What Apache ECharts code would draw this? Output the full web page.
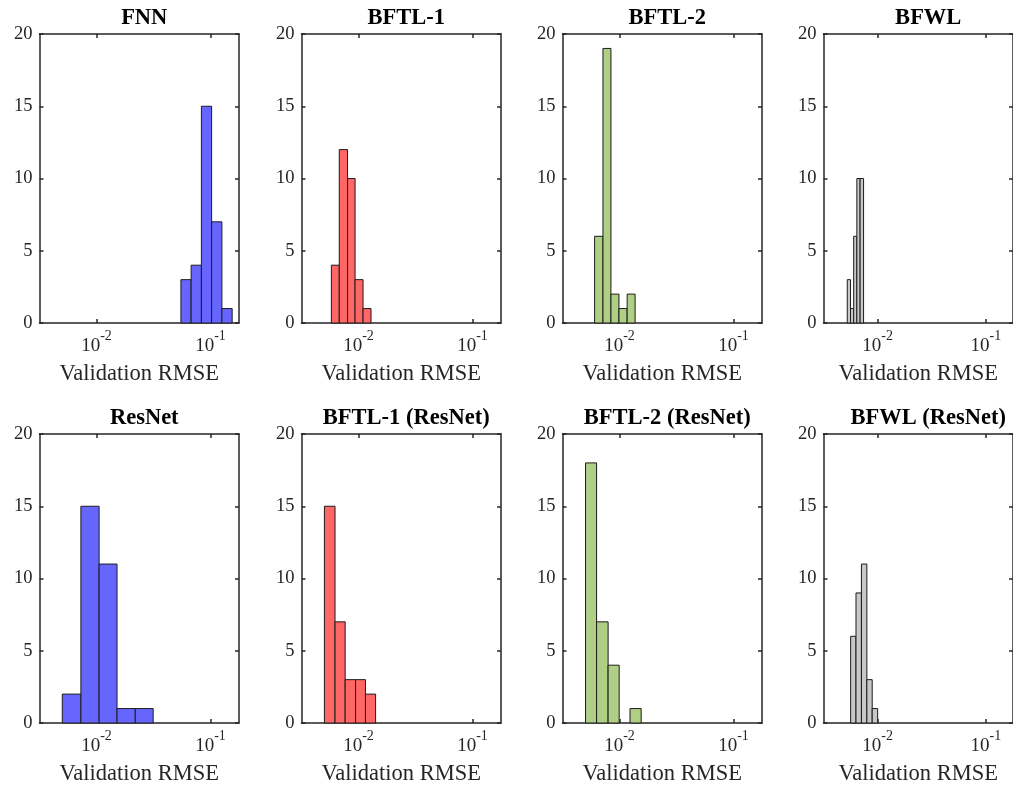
<!DOCTYPE html>
<html><head><meta charset="utf-8">
<script src="https://cdn.jsdelivr.net/npm/echarts@6/dist/echarts.min.js"></script>
<style>html,body{margin:0;padding:0;background:#fff}#c{width:1013px;height:791px}</style>
</head><body><div id="c"></div>
<script>
// ---- data ----
const panelTitles = ['FNN', 'BFTL-1', 'BFTL-2', 'BFWL', 'ResNet', 'BFTL-1 (ResNet)', 'BFTL-2 (ResNet)', 'BFWL (ResNet)'];
const xAxisName = 'Validation RMSE';
const yTicks = [0, 5, 10, 15, 20];
const xTickValues = [0.01, 0.1];

const fnnEdges = [0.0550, 0.0676, 0.0832, 0.1023, 0.1259, 0.1549];
const fnnCounts = [3, 4, 15, 7, 1];
const bftl1Edges = [0.00578, 0.00678, 0.00802, 0.00933, 0.01096, 0.01288];
const bftl1Counts = [4, 12, 10, 3, 1];
const bftl2Edges = [0.00605, 0.00716, 0.00841, 0.00989, 0.01167, 0.01371];
const bftl2Counts = [6, 19, 2, 1, 2];
const bfwlEdges = [0.005241, 0.005618, 0.006008, 0.006427, 0.006887, 0.007413];
const bfwlCounts = [3, 1, 6, 10, 10];
const resnetEdges = [0.005012, 0.007295, 0.010544, 0.015136, 0.021878, 0.031405];
const resnetCounts = [2, 15, 11, 1, 1];
const bftl1ResEdges = [0.005023, 0.006223, 0.007638, 0.009419, 0.011508, 0.014125];
const bftl1ResCounts = [15, 7, 3, 3, 2];
const bftl2ResEdges = [0.005035, 0.006295, 0.007943, 0.009931, 0.012359, 0.015488];
const bftl2ResCounts = [18, 7, 4, 0, 1];
const bfwlResEdges = [0.005632, 0.006310, 0.007083, 0.007951, 0.008907, 0.01];
const bfwlResCounts = [6, 9, 11, 3, 1];

const panelEdges = [fnnEdges, bftl1Edges, bftl2Edges, bfwlEdges, resnetEdges, bftl1ResEdges, bftl2ResEdges, bfwlResEdges];
const panelCounts = [fnnCounts, bftl1Counts, bftl2Counts, bfwlCounts, resnetCounts, bftl1ResCounts, bftl2ResCounts, bfwlResCounts];
const panelColors = ['#6666ff', '#ff6666', '#afcf84', '#c8c8c8', '#6666ff', '#ff6666', '#afcf84', '#c8c8c8'];

// ---- layout ----
const X_MIN = Math.pow(10, -2.5), X_MAX = Math.pow(10, -0.75);
const colLeft = [39.5, 301.5, 562.5, 823.5];
const rowTop = [34, 434];
const gw = 199.5, gh = 289;
const FONT = 'Liberation Serif';
const AX = '#262626';

const grids = [], xAxes = [], yAxes = [], series = [], titleArr = [];
for (let i = 0; i < 8; i++) {
  const r = Math.floor(i / 4), c = i % 4;
  grids.push({left: colLeft[c], top: rowTop[r], width: gw, height: gh, containLabel: false});
  titleArr.push({
    text: panelTitles[i], left: colLeft[c] + gw / 2, top: rowTop[r] - 32, textAlign: 'center',
    textStyle: {fontFamily: FONT, fontWeight: 'bold', fontSize: 22.5, color: '#000'}
  });
  const xCommon = {
    type: 'log', logBase: 10, gridIndex: i, min: X_MIN, max: X_MAX,
    splitLine: {show: false}, minorTick: {show: false},
    axisLine: {show: true, onZero: false, lineStyle: {color: AX, width: 1.5}},
    axisTick: {show: true, inside: true, length: 4, lineStyle: {color: AX, width: 1.5},
      customValues: xTickValues}
  };
  xAxes.push(Object.assign({}, xCommon, {
    position: 'bottom',
    name: xAxisName, nameLocation: 'middle', nameGap: 40,
    nameTextStyle: {fontFamily: FONT, fontSize: 22.5, color: AX},
    axisLabel: {
      show: true, margin: 6,
      customValues: xTickValues,
      formatter: function (v) {
        const e = Math.round(Math.abs(v) < 1 && v > 0 ? Math.log10(v) : v);
        return '{b|10}{s|' + e + '}';
      },
      rich: {
        b: {fontFamily: FONT, fontSize: 19, lineHeight: 19, color: AX, verticalAlign: 'bottom'},
        s: {fontFamily: FONT, fontSize: 14, lineHeight: 27, color: AX, verticalAlign: 'top'}
      }
    }
  }));
  xAxes.push(Object.assign({}, xCommon, {position: 'top', axisLabel: {show: false}}));
  const yCommon = {
    type: 'value', gridIndex: i, min: 0, max: 20, interval: 5,
    splitLine: {show: false},
    axisLine: {show: true, onZero: false, lineStyle: {color: AX, width: 1.5}},
    axisTick: {show: true, inside: true, length: 4, lineStyle: {color: AX, width: 1.5}}
  };
  yAxes.push(Object.assign({}, yCommon, {
    position: 'left',
    axisLabel: {show: true, margin: 7, fontFamily: FONT, fontSize: 18.5, color: AX}
  }));
  yAxes.push(Object.assign({}, yCommon, {position: 'right', axisLabel: {show: false}}));

  const edges = panelEdges[i], counts = panelCounts[i], color = panelColors[i];
  const data = counts.map((cnt, k) => [edges[k], edges[k + 1], cnt]);
  series.push({
    type: 'custom', xAxisIndex: 2 * i, yAxisIndex: 2 * i,
    encode: {x: [0, 1], y: 2},
    data: data, silent: true,
    renderItem: function (params, api) {
      const cnt = api.value(2);
      if (!cnt) return null;
      const p0 = api.coord([api.value(0), 0]);
      const p1 = api.coord([api.value(1), cnt]);
      return {
        type: 'rect',
        shape: {x: p0[0], y: p1[1], width: p1[0] - p0[0], height: p0[1] - p1[1]},
        style: {fill: color, stroke: '#1c1c1c', lineWidth: 1}
      };
    }
  });
}

const chart = echarts.init(document.getElementById('c'), null, {renderer: 'canvas'});
chart.setOption({
  animation: false,
  backgroundColor: '#ffffff',
  title: titleArr,
  grid: grids,
  xAxis: xAxes,
  yAxis: yAxes,
  series: series
});
</script>
</body></html>
